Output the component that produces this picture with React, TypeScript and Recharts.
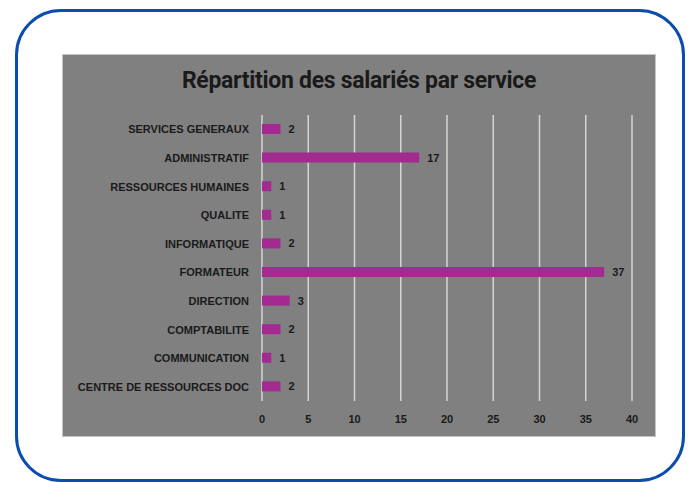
import { BarChart, Bar, XAxis, YAxis, CartesianGrid, LabelList } from 'recharts'

const services = [
  'SERVICES GENERAUX',
  'ADMINISTRATIF',
  'RESSOURCES HUMAINES',
  'QUALITE',
  'INFORMATIQUE',
  'FORMATEUR',
  'DIRECTION',
  'COMPTABILITE',
  'COMMUNICATION',
  'CENTRE DE RESSOURCES DOC',
]
const effectifs = [2, 17, 1, 1, 2, 37, 3, 2, 1, 2]
const xTicks = [0, 5, 10, 15, 20, 25, 30, 35, 40]

const data = services.map((service, i) => ({ service, effectif: effectifs[i] }))

const font = "'Liberation Sans', Arial, sans-serif"
const tickStyle = { fill: '#1a1a1a', fontSize: 11, fontWeight: 700, fontFamily: font }

// custom tick so long labels stay on one line
function ServiceTick({ x, y, payload }: any) {
  return (
    <text x={x} y={y} dy={4} textAnchor="end" {...tickStyle}>
      {payload.value}
    </text>
  )
}

export default function App() {
  return (
    <div style={{ position: 'absolute', left: 0, top: 0, width: 692, height: 482, background: '#fff', overflow: 'hidden' }}>
      <div
        style={{
          position: 'absolute',
          left: 15,
          top: 9,
          width: 664,
          height: 467,
          border: '3px solid #0b4dad',
          borderRadius: 46,
        }}
      />
      <div
        style={{
          position: 'absolute',
          left: 62,
          top: 54,
          width: 594,
          height: 383,
          background: '#808080',
          border: '1px solid #c4c4c4',
          boxSizing: 'border-box',
        }}
      >
        <div
          style={{
            position: 'absolute',
            left: 0,
            right: 0,
            top: 12,
            textAlign: 'center',
            fontFamily: "'Roboto', sans-serif",
            fontWeight: 700,
            fontSize: 23,
            color: '#1a1a1a',
            letterSpacing: -0.3,
          }}
        >
          Répartition des salariés par service
        </div>
        <div style={{ position: 'absolute', left: -1, top: -1 }}>
          <BarChart
            width={594}
            height={383}
            data={data}
            layout="vertical"
            margin={{ top: 61, right: 24, left: 0, bottom: 0 }}
            barSize={10}
          >
            <CartesianGrid horizontal={false} vertical stroke="#d4d4d4" strokeWidth={1.5} />
            <XAxis
              type="number"
              domain={[0, 40]}
              ticks={xTicks}
              axisLine={false}
              tickLine={false}
              tickMargin={8}
              height={36}
              tick={tickStyle}
            />
            <YAxis
              type="category"
              dataKey="service"
              width={200}
              axisLine={false}
              tickLine={false}
              tickMargin={7}
              interval={0}
              tick={<ServiceTick />}
            />
            <Bar dataKey="effectif" fill="#a22a90" isAnimationActive={false}>
              <LabelList dataKey="effectif" position="right" offset={8} style={tickStyle} />
            </Bar>
          </BarChart>
        </div>
      </div>
    </div>
  )
}
